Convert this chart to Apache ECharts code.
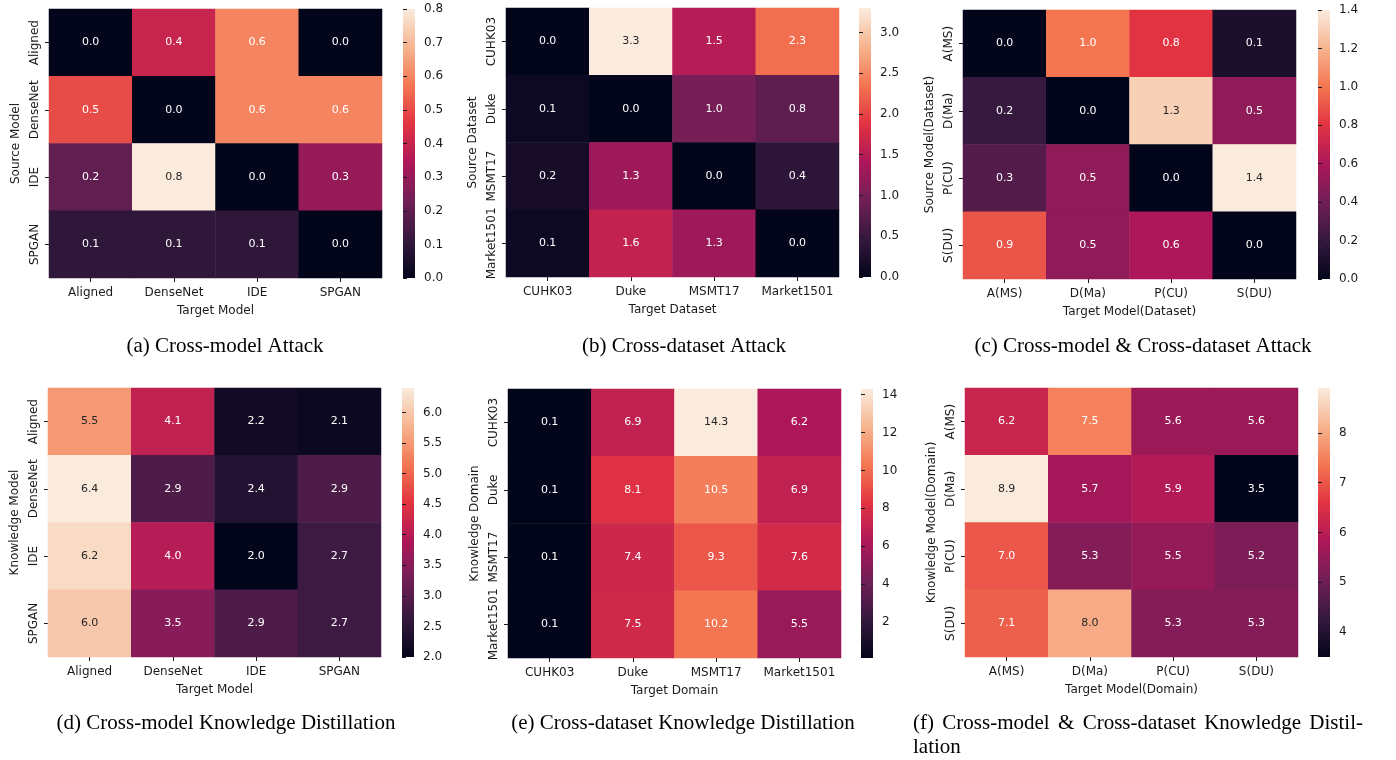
<!DOCTYPE html>
<html><head><meta charset="utf-8">
<script src="https://cdn.jsdelivr.net/npm/echarts@6/dist/echarts.min.js"></script>
<style>html,body{margin:0;padding:0;background:#fff}#c{width:1396px;height:760px}</style>
</head><body><div id="c"></div>
<script>
// ---------- categories ----------
const modelCats = ['Aligned', 'DenseNet', 'IDE', 'SPGAN'];
const datasetCats = ['CUHK03', 'Duke', 'MSMT17', 'Market1501'];
const mdCats = ['A(MS)', 'D(Ma)', 'P(CU)', 'S(DU)'];

// ---------- values (rows = source/knowledge, cols = target) ----------
const valsA = [[0.0, 0.4, 0.6, 0.0], [0.5, 0.0, 0.6, 0.6], [0.2, 0.8, 0.0, 0.3], [0.1, 0.1, 0.1, 0.0]];
const valsB = [[0.0, 3.3, 1.5, 2.3], [0.1, 0.0, 1.0, 0.8], [0.2, 1.3, 0.0, 0.4], [0.1, 1.6, 1.3, 0.0]];
const valsC = [[0.0, 1.0, 0.8, 0.1], [0.2, 0.0, 1.3, 0.5], [0.3, 0.5, 0.0, 1.4], [0.9, 0.5, 0.6, 0.0]];
const valsD = [[5.5, 4.1, 2.2, 2.1], [6.4, 2.9, 2.4, 2.9], [6.2, 4.0, 2.0, 2.7], [6.0, 3.5, 2.9, 2.7]];
const valsE = [[0.1, 6.9, 14.3, 6.2], [0.1, 8.1, 10.5, 6.9], [0.1, 7.4, 9.3, 7.6], [0.1, 7.5, 10.2, 5.5]];
const valsF = [[6.2, 7.5, 5.6, 5.6], [8.9, 5.7, 5.9, 3.5], [7.0, 5.3, 5.5, 5.2], [7.1, 8.0, 5.3, 5.3]];

// ---------- colorbar tick labels ----------
const ticksA = [0.0, 0.1, 0.2, 0.3, 0.4, 0.5, 0.6, 0.7, 0.8];
const ticksB = [0.0, 0.5, 1.0, 1.5, 2.0, 2.5, 3.0];
const ticksC = [0.0, 0.2, 0.4, 0.6, 0.8, 1.0, 1.2, 1.4];
const ticksD = [2.0, 2.5, 3.0, 3.5, 4.0, 4.5, 5.0, 5.5, 6.0];
const ticksE = [2, 4, 6, 8, 10, 12, 14];
const ticksF = [4, 5, 6, 7, 8];

// seaborn "rocket" colormap, evenly spaced stops
const rocket = ['#03051a', '#35193e', '#701f57', '#ad1759', '#e13342', '#f37651', '#f6b48f', '#faebdd'];

const W = 333, H = 269, CBW = 12;
const TXT = '#1a1a1a';
const SANS = '"DejaVu Sans", sans-serif';
const SERIF = '"Liberation Serif", "Times New Roman", serif';

const panels = [
  {vals: valsA, x: modelCats, y: modelCats, xName: 'Target Model', yName: 'Source Model', ticks: ticksA, dec: 1, left: 49, top: 9, cb: 403},
  {vals: valsB, x: datasetCats, y: datasetCats, xName: 'Target Dataset', yName: 'Source Dataset', ticks: ticksB, dec: 1, left: 506, top: 8, cb: 859},
  {vals: valsC, x: mdCats, y: mdCats, xName: 'Target Model(Dataset)', yName: 'Source Model(Dataset)', ticks: ticksC, dec: 1, left: 963, top: 10, cb: 1318},
  {vals: valsD, x: modelCats, y: modelCats, xName: 'Target Model', yName: 'Knowledge Model', ticks: ticksD, dec: 1, left: 48, top: 388, cb: 402},
  {vals: valsE, x: datasetCats, y: datasetCats, xName: 'Target Domain', yName: 'Knowledge Domain', ticks: ticksE, dec: 0, left: 508, top: 389, cb: 861},
  {vals: valsF, x: mdCats, y: mdCats, xName: 'Target Model(Domain)', yName: 'Knowledge Model(Domain)', ticks: ticksF, dec: 0, left: 965, top: 388, cb: 1318}
];

const captions = [
  {text: '(a) Cross-model Attack', x: 225, y: 346},
  {text: '(b) Cross-dataset Attack', x: 684, y: 346},
  {text: '(c) Cross-model & Cross-dataset Attack', x: 1143, y: 346},
  {text: '(d) Cross-model Knowledge Distillation', x: 226, y: 723},
  {text: '(e) Cross-dataset Knowledge Distillation', x: 683, y: 723}
];
const capF1 = '(f) Cross-model & Cross-dataset Knowledge Distil-';
const capF2 = 'lation';

function hexToRgb(h) { return [parseInt(h.slice(1, 3), 16), parseInt(h.slice(3, 5), 16), parseInt(h.slice(5, 7), 16)]; }
function cmap(t) {
  t = Math.max(0, Math.min(1, t));
  const n = rocket.length - 1, p = t * n, i = Math.min(n - 1, Math.floor(p)), f = p - i;
  const a = hexToRgb(rocket[i]), b = hexToRgb(rocket[i + 1]);
  return a.map((v, k) => v + (b[k] - v) * f);
}
function lum(rgb) {
  const c = rgb.map(v => { v /= 255; return v <= 0.03928 ? v / 12.92 : Math.pow((v + 0.055) / 1.055, 2.4); });
  return 0.2126 * c[0] + 0.7152 * c[1] + 0.0722 * c[2];
}

const grid = [], xAxis = [], yAxis = [], series = [], visualMap = [], graphic = [];
const gradStops = rocket.map((c, k) => ({offset: k / (rocket.length - 1), color: c}));

panels.forEach((p, i) => {
  const flat = p.vals.flat();
  const mn = Math.min(...flat), mx = Math.max(...flat);
  const hi = 2 * i, ci = 2 * i + 1;
  grid.push({left: p.left, top: p.top, width: W, height: H});
  grid.push({left: p.cb, top: p.top, width: CBW, height: H});
  xAxis.push({
    type: 'category', gridIndex: hi, data: p.x, position: 'bottom',
    name: p.xName, nameLocation: 'middle', nameGap: 27,
    nameTextStyle: {fontFamily: SANS, fontSize: 12, color: TXT},
    axisLine: {show: false}, splitLine: {show: false}, splitArea: {show: false},
    axisTick: {show: true, alignWithLabel: true, length: 4, lineStyle: {color: TXT}},
    axisLabel: {interval: 0, margin: 9, fontFamily: SANS, fontSize: 12, color: TXT}
  });
  yAxis.push({
    type: 'category', gridIndex: hi, data: p.y, inverse: true, position: 'left',
    name: p.yName, nameLocation: 'middle', nameGap: 27, nameRotate: 90,
    nameTextStyle: {fontFamily: SANS, fontSize: 12, color: TXT},
    axisLine: {show: false}, splitLine: {show: false}, splitArea: {show: false},
    axisTick: {show: true, alignWithLabel: true, length: 4, lineStyle: {color: TXT}},
    axisLabel: {interval: 0, rotate: 90, margin: 8, hideOverlap: false, fontFamily: SANS, fontSize: 12, color: TXT}
  });
  xAxis.push({type: 'value', gridIndex: ci, show: false, min: 0, max: 1});
  yAxis.push({
    type: 'value', gridIndex: ci, min: mn, max: mx, position: 'right',
    axisLine: {show: false}, splitLine: {show: false},
    axisTick: {show: true, length: 4, customValues: p.ticks, lineStyle: {color: TXT}},
    axisLabel: {customValues: p.ticks, margin: 9, fontFamily: SANS, fontSize: 12, color: TXT,
      formatter: v => Number(v).toFixed(p.dec)}
  });
  const data = [];
  p.vals.forEach((row, r) => row.forEach((v, c) => {
    const col = cmap((v - mn) / (mx - mn));
    data.push({value: [c, r, v], label: {color: lum(col) > 0.408 ? '#262626' : '#ffffff'}});
  }));
  series.push({
    type: 'heatmap', xAxisIndex: hi, yAxisIndex: hi, data: data,
    label: {show: true, fontFamily: SANS, fontSize: 11, formatter: d => d.value[2].toFixed(1)},
    itemStyle: {borderWidth: 0},
    emphasis: {disabled: true}, silent: true, progressive: 0
  });
  visualMap.push({
    type: 'continuous', seriesIndex: i, dimension: 2, min: mn, max: mx, show: false,
    inRange: {color: rocket}
  });
  // colour bar (legend of the visualMap)
  graphic.push({
    type: 'rect', silent: true, shape: {x: p.cb, y: p.top, width: CBW, height: H},
    style: {fill: new echarts.graphic.LinearGradient(0, 1, 0, 0, gradStops), lineWidth: 0}
  });
});

captions.forEach(c => graphic.push({
  type: 'text', silent: true, x: c.x, y: c.y,
  style: {text: c.text, fontFamily: SERIF, fontSize: 21, fill: '#000', align: 'center', verticalAlign: 'middle'}
}));
// justified first line of caption (f)
(function () {
  const cv = document.createElement('canvas').getContext('2d');
  cv.font = '21px "Liberation Serif"';
  const words = capF1.split(' ');
  const x0 = 913, x1 = 1363;
  const widths = words.map(w => cv.measureText(w).width);
  const sum = widths.reduce((a, b) => a + b, 0);
  const gap = (x1 - x0 - sum) / (words.length - 1);
  let x = x0;
  words.forEach((w, k) => {
    graphic.push({type: 'text', silent: true, x: x, y: 723,
      style: {text: w, fontFamily: SERIF, fontSize: 21, fill: '#000', align: 'left', verticalAlign: 'middle'}});
    x += widths[k] + gap;
  });
  graphic.push({type: 'text', silent: true, x: x0, y: 747,
    style: {text: capF2, fontFamily: SERIF, fontSize: 21, fill: '#000', align: 'left', verticalAlign: 'middle'}});
})();

const chart = echarts.init(document.getElementById('c'), null, {renderer: 'canvas'});
chart.setOption({
  animation: false, backgroundColor: '#ffffff',
  grid, xAxis, yAxis, series, visualMap, graphic
});
</script></body></html>
